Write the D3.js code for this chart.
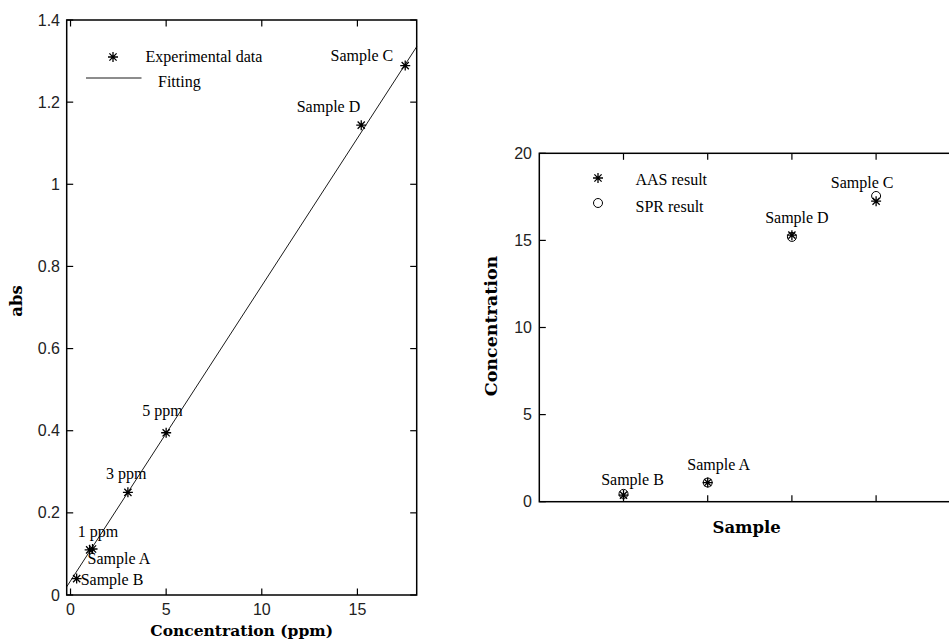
<!DOCTYPE html>
<html>
<head>
<meta charset="utf-8">
<script src="https://cdn.jsdelivr.net/npm/d3@7"></script>
<style>
  body { margin: 0; background: #fff; }
  .tick-label { font-family: "Liberation Sans", Arial, sans-serif; font-size: 16px; fill: #222; }
  .note { font-family: "Liberation Serif", "Times New Roman", serif; font-size: 16px; fill: #000; }
  .title { font-family: "DejaVu Serif", serif; font-weight: bold; font-size: 15.5px; fill: #000; }
</style>
</head>
<body>
<div id="chart"></div>
<script>
// left panel: calibration
var stdConc = [1, 3, 5],
    stdAbs = [0.11, 0.25, 0.395],
    stdNames = ["1 ppm", "3 ppm", "5 ppm"];

var sampleNames = ["Sample A", "Sample B", "Sample C", "Sample D"],
    sampleConc = [1.15, 0.32, 17.5, 15.2],
    sampleAbs = [0.112, 0.04, 1.289, 1.144];

// fitted line, end points
var fitConc = [-0.2, 18.1],
    fitAbs = [0.02, 1.335];

var leftXTicks = [0, 5, 10, 15],
    leftYTicks = [0, 0.2, 0.4, 0.6, 0.8, 1, 1.2, 1.4];

// right panel: AAS vs SPR
var compNames = ["Sample B", "Sample A", "Sample D", "Sample C"],
    compPos = [1, 2, 3, 4],
    aasResult = [0.38, 1.1, 15.3, 17.25],
    sprResult = [0.45, 1.1, 15.2, 17.55];

var rightXTicks = [1, 2, 3, 4],
    rightYTicks = [0, 5, 10, 15, 20];

var W = 949, H = 644;

var svg = d3.select("#chart")
    .append("svg")
    .attr("width", W)
    .attr("height", H);

// star marker like matlab '*'
function star(g, cx, cy, r) {
    var d = r * 0.72;
    g.append("path")
        .attr("d", "M" + (cx - r) + "," + cy + "H" + (cx + r) +
            "M" + cx + "," + (cy - r) + "V" + (cy + r) +
            "M" + (cx - d) + "," + (cy - d) + "L" + (cx + d) + "," + (cy + d) +
            "M" + (cx - d) + "," + (cy + d) + "L" + (cx + d) + "," + (cy - d))
        .attr("stroke", "#000")
        .attr("stroke-width", 1.3)
        .attr("fill", "none");
}

function frame(g, x, y, xt, yt, tickLen) {
    var x0 = x.range()[0], x1 = x.range()[1],
        y0 = y.range()[0], y1 = y.range()[1];
    g.append("rect")
        .attr("x", x0).attr("y", y1)
        .attr("width", x1 - x0).attr("height", y0 - y1)
        .attr("fill", "none")
        .attr("stroke", "#000")
        .attr("stroke-width", 1.5);
    xt.forEach(function (t) {
        g.append("line").attr("x1", x(t)).attr("x2", x(t))
            .attr("y1", y0).attr("y2", y0 - tickLen).attr("stroke", "#000").attr("stroke-width", 1.2);
        g.append("line").attr("x1", x(t)).attr("x2", x(t))
            .attr("y1", y1).attr("y2", y1 + tickLen).attr("stroke", "#000").attr("stroke-width", 1.2);
    });
    yt.forEach(function (t) {
        g.append("line").attr("y1", y(t)).attr("y2", y(t))
            .attr("x1", x0).attr("x2", x0 + tickLen).attr("stroke", "#000").attr("stroke-width", 1.2);
        g.append("line").attr("y1", y(t)).attr("y2", y(t))
            .attr("x1", x1).attr("x2", x1 - tickLen).attr("stroke", "#000").attr("stroke-width", 1.2);
    });
}

// ---------- left panel ----------
var xL = d3.scaleLinear().domain([-0.2, 18.1]).range([66.7, 416.7]),
    yL = d3.scaleLinear().domain([0, 1.4]).range([595, 20]);

var gL = svg.append("g");
frame(gL, xL, yL, leftXTicks, leftYTicks, 6.5);

gL.selectAll(".xl").data(leftXTicks).enter().append("text")
    .attr("class", "tick-label")
    .attr("x", function (d) { return xL(d); })
    .attr("y", 615)
    .attr("text-anchor", "middle")
    .text(String);

gL.selectAll(".yl").data(leftYTicks).enter().append("text")
    .attr("class", "tick-label")
    .attr("x", 60)
    .attr("y", function (d) { return yL(d); })
    .attr("dy", "0.35em")
    .attr("text-anchor", "end")
    .text(String);

gL.append("line")
    .attr("x1", xL(fitConc[0])).attr("y1", yL(fitAbs[0]))
    .attr("x2", xL(fitConc[1])).attr("y2", yL(fitAbs[1]))
    .attr("stroke", "#000").attr("stroke-width", 0.9);

stdConc.forEach(function (c, i) { star(gL, xL(c), yL(stdAbs[i]), 5); });
sampleConc.forEach(function (c, i) { star(gL, xL(c), yL(sampleAbs[i]), 5); });

var leftOffsets = {
    "1 ppm": [-12, -13, "start"],
    "3 ppm": [-22, -13, "start"],
    "5 ppm": [-24, -17, "start"],
    "Sample A": [-5, 15, "start"],
    "Sample B": [4, 6, "start"],
    "Sample C": [-12, -5, "end"],
    "Sample D": [-1, -13, "end"]
};

stdNames.forEach(function (n, i) {
    var o = leftOffsets[n];
    gL.append("text").attr("class", "note")
        .attr("x", xL(stdConc[i]) + o[0]).attr("y", yL(stdAbs[i]) + o[1])
        .attr("text-anchor", o[2]).text(n);
});
sampleNames.forEach(function (n, i) {
    var o = leftOffsets[n];
    gL.append("text").attr("class", "note")
        .attr("x", xL(sampleConc[i]) + o[0]).attr("y", yL(sampleAbs[i]) + o[1])
        .attr("text-anchor", o[2]).text(n);
});

// legend
star(gL, 113, 57, 5);
gL.append("text").attr("class", "note").attr("x", 145.5).attr("y", 62).text("Experimental data");
gL.append("line").attr("x1", 86).attr("x2", 141.5).attr("y1", 78).attr("y2", 78)
    .attr("stroke", "#000").attr("stroke-width", 0.9);
gL.append("text").attr("class", "note").attr("x", 158).attr("y", 87).text("Fitting");

gL.append("text").attr("class", "title")
    .attr("x", 241.7).attr("y", 636)
    .attr("text-anchor", "middle")
    .text("Concentration (ppm)");
gL.append("text").attr("class", "title")
    .attr("transform", "translate(22,301) rotate(-90)")
    .attr("text-anchor", "middle")
    .style("font-size", "16.5px")
    .text("abs");

// ---------- right panel ----------
var xR = d3.scaleLinear().domain([0, 5]).range([539.3, 960.3]),
    yR = d3.scaleLinear().domain([0, 20]).range([501.7, 153.3]);

var gR = svg.append("g");
frame(gR, xR, yR, rightXTicks, rightYTicks, 6.5);

gR.selectAll(".yr").data(rightYTicks).enter().append("text")
    .attr("class", "tick-label")
    .attr("x", 532)
    .attr("y", function (d) { return yR(d); })
    .attr("dy", "0.35em")
    .attr("text-anchor", "end")
    .text(String);

compPos.forEach(function (p, i) {
    gR.append("circle")
        .attr("cx", xR(p)).attr("cy", yR(sprResult[i]))
        .attr("r", 4.5)
        .attr("fill", "none").attr("stroke", "#000").attr("stroke-width", 1);
    star(gR, xR(p), yR(aasResult[i]), 5);
});

var rightOffsets = {
    "Sample B": [9, -10],
    "Sample A": [11, -13],
    "Sample D": [5, -12],
    "Sample C": [-14, -13]
};
compNames.forEach(function (n, i) {
    var o = rightOffsets[n];
    gR.append("text").attr("class", "note")
        .attr("x", xR(compPos[i]) + o[0]).attr("y", yR(aasResult[i]) + o[1])
        .attr("text-anchor", "middle").text(n);
});

star(gR, 598, 178, 5);
gR.append("text").attr("class", "note").attr("x", 635.5).attr("y", 185).text("AAS result");
gR.append("circle").attr("cx", 598).attr("cy", 203).attr("r", 4.5)
    .attr("fill", "none").attr("stroke", "#000").attr("stroke-width", 1);
gR.append("text").attr("class", "note").attr("x", 635.5).attr("y", 212).text("SPR result");

gR.append("text").attr("class", "title")
    .attr("x", 746.7).attr("y", 533)
    .attr("text-anchor", "middle")
    .style("font-size", "16.5px")
    .text("Sample");
gR.append("text").attr("class", "title")
    .attr("transform", "translate(497,326) rotate(-90)")
    .attr("text-anchor", "middle")
    .style("font-size", "17.5px")
    .text("Concentration");
</script>
</body>
</html>
